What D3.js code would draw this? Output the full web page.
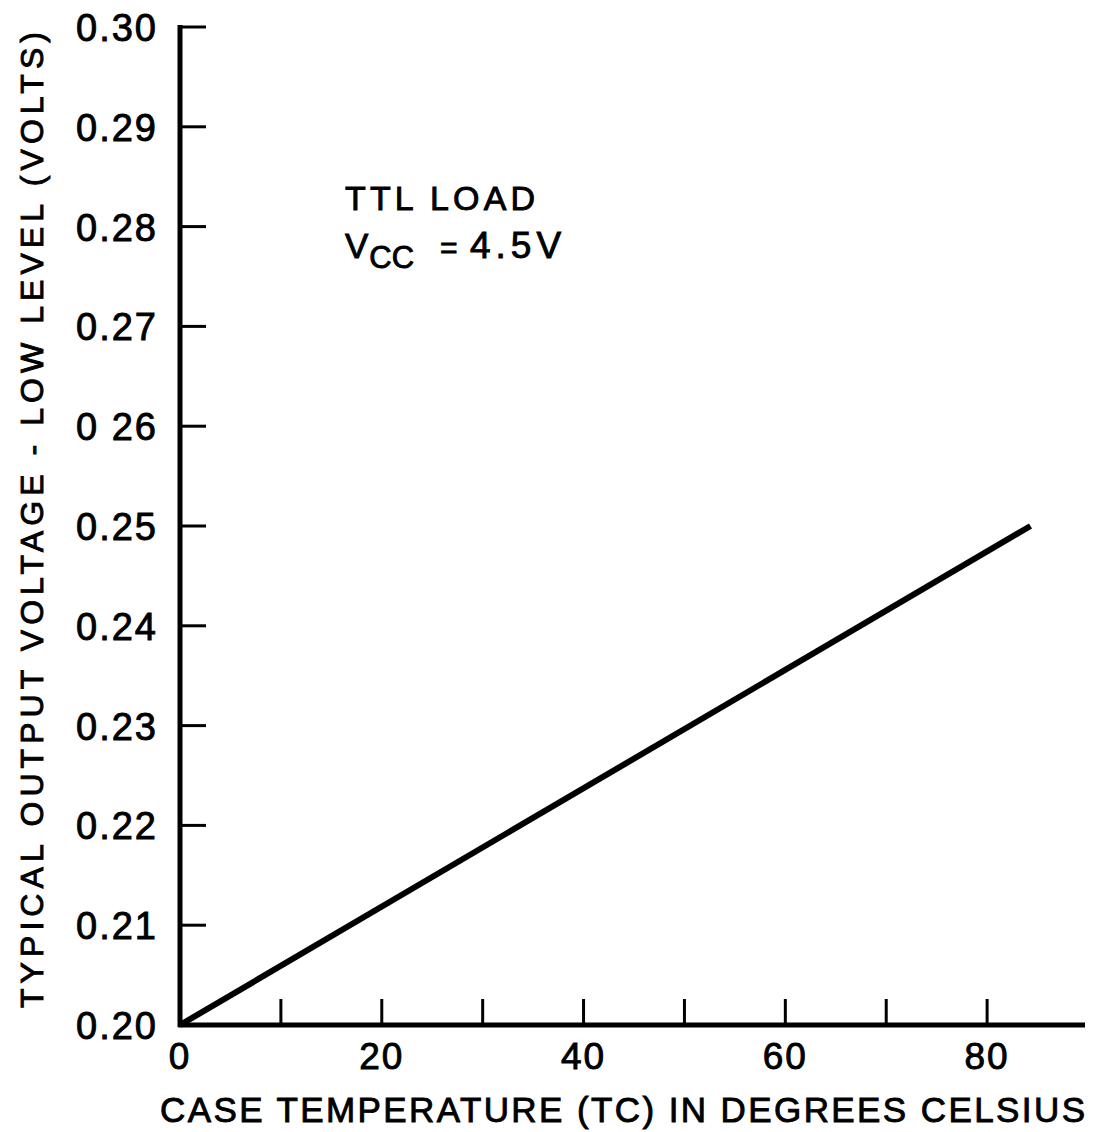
<!DOCTYPE html>
<html><head><meta charset="utf-8">
<script src="https://cdn.jsdelivr.net/npm/d3@7"></script>
<style>body{margin:0;background:#fff}svg{display:block}text{font-family:"Liberation Sans",Arial,sans-serif;fill:#000;stroke:#000;stroke-width:0.9px}</style>
</head><body>
<svg id="c" width="1104" height="1132"></svg>
<script>
const xTicks = [0, 10, 20, 30, 40, 50, 60, 70, 80];
const xTickLabels = ["0", "", "20", "", "40", "", "60", "", "80"];
const yTicks = [0.20, 0.21, 0.22, 0.23, 0.24, 0.25, 0.26, 0.27, 0.28, 0.29, 0.30];
const yTickLabels = ["0.20", "0.21", "0.22", "0.23", "0.24", "0.25", "0 26", "0.27", "0.28", "0.29", "0.30"];
const temps = [0, 84.3];
const volts = [0.200, 0.250];
const xTitle = "CASE TEMPERATURE (TC) IN DEGREES CELSIUS";
const yTitle = "TYPICAL OUTPUT VOLTAGE - LOW LEVEL (VOLTS)";

const svg = d3.select("#c");
const x = d3.scaleLinear().domain([0, 90]).range([180, 1088]);
const y = d3.scaleLinear().domain([0.20, 0.30]).range([1025, 27]);

// y axis line
svg.append("line").attr("x1", x(0)).attr("x2", x(0)).attr("y1", y(0.30) - 2).attr("y2", y(0.20) + 2)
  .attr("stroke", "#000").attr("stroke-width", 5);
// x axis line
svg.append("line").attr("x1", x(0) - 2).attr("x2", x(90) - 3).attr("y1", y(0.20)).attr("y2", y(0.20))
  .attr("stroke", "#000").attr("stroke-width", 5);

// y ticks (inward)
svg.selectAll(".yt").data(yTicks.slice(1)).join("line")
  .attr("x1", x(0)).attr("x2", x(0) + 26).attr("y1", d => y(d)).attr("y2", d => y(d))
  .attr("stroke", "#000").attr("stroke-width", 3);
svg.selectAll(".yl").data(yTicks).join("text")
  .attr("x", 158).attr("y", d => y(d) + 14).attr("text-anchor", "end")
  .attr("font-size", 38).attr("letter-spacing", 2)
  .text((d, i) => yTickLabels[i]);

// x ticks (inward, upward)
svg.selectAll(".xt").data(xTicks.slice(1)).join("line")
  .attr("x1", d => x(d)).attr("x2", d => x(d)).attr("y1", y(0.20)).attr("y2", y(0.20) - 26)
  .attr("stroke", "#000").attr("stroke-width", 3);
svg.selectAll(".xl").data(xTicks).join("text")
  .attr("x", d => x(d)).attr("y", 1069).attr("text-anchor", "middle")
  .attr("font-size", 37).attr("letter-spacing", 2)
  .text((d, i) => xTickLabels[i]);

// data line
svg.append("path")
  .datum(temps.map((t, i) => [t, volts[i]]))
  .attr("d", d3.line().x(d => x(d[0])).y(d => y(d[1])))
  .attr("fill", "none").attr("stroke", "#000").attr("stroke-width", 6);

// titles
svg.append("text").attr("x", 160).attr("y", 1122)
  .attr("font-size", 35).attr("textLength", 925).attr("lengthAdjust", "spacing")
  .text(xTitle);
svg.append("text").attr("transform", "translate(43,1008) rotate(-90)")
  .attr("font-size", 32).attr("textLength", 976).attr("lengthAdjust", "spacing")
  .text(yTitle);

// annotation
svg.append("text").attr("x", 345).attr("y", 210).attr("font-size", 34)
  .attr("textLength", 190).attr("lengthAdjust", "spacing").text("TTL LOAD");
const t2 = svg.append("text").attr("x", 345).attr("y", 258).attr("font-size", 35);
t2.append("tspan").text("V");
t2.append("tspan").attr("dy", 10).attr("font-size", 31).attr("dx", 1).text("CC");
t2.append("tspan").attr("dy", -10).attr("x", 440).attr("font-size", 30).text("=");
t2.append("tspan").attr("x", 470).attr("font-size", 37).attr("letter-spacing", 5).text("4.5V");
</script>
</body></html>
